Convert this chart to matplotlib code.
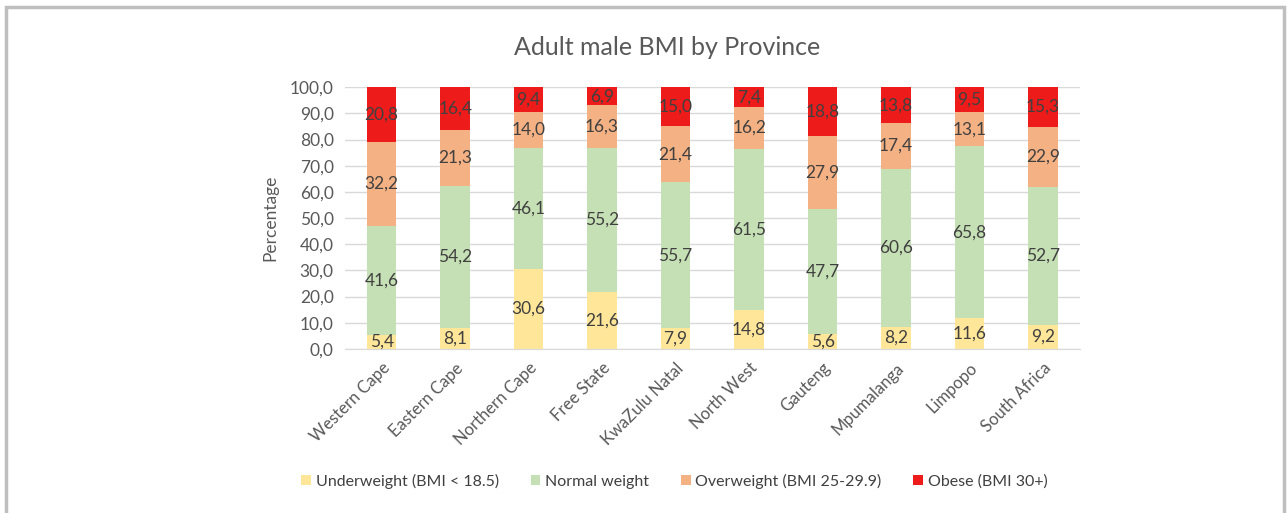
"""Adult male BMI by Province - stacked bar chart."""
import matplotlib
matplotlib.use("Agg")
import matplotlib.pyplot as plt
from matplotlib.patches import Rectangle
import numpy as np

provinces = ["Western Cape", "Eastern Cape", "Northern Cape", "Free State",
             "KwaZulu Natal", "North West", "Gauteng", "Mpumalanga",
             "Limpopo", "South Africa"]
underweight = [5.4, 8.1, 30.6, 21.6, 7.9, 14.8, 5.6, 8.2, 11.6, 9.2]
normal = [41.6, 54.2, 46.1, 55.2, 55.7, 61.5, 47.7, 60.6, 65.8, 52.7]
overweight = [32.2, 21.3, 14.0, 16.3, 21.4, 16.2, 27.9, 17.4, 13.1, 22.9]
obese = [20.8, 16.4, 9.4, 6.9, 15.0, 7.4, 18.8, 13.8, 9.5, 15.3]

series_names = ["Underweight (BMI < 18.5)", "Normal weight",
                "Overweight (BMI 25-29.9)", "Obese (BMI 30+)"]
colors = ["#FFE699", "#C5E0B4", "#F4B183", "#EE1B1B"]

plt.rcParams['font.family'] = ['Lato', 'DejaVu Sans']

fig = plt.figure(figsize=(12.87, 5.13), dpi=100)
ax = fig.add_axes([0.268, 0.320, 0.571, 0.510])

x = np.arange(len(provinces))
bottom = np.zeros(len(provinces))
for vals, name, col in zip([underweight, normal, overweight, obese],
                           series_names, colors):
    vals = np.array(vals)
    ax.bar(x, vals, width=0.4, bottom=bottom, color=col, label=name, zorder=2)
    for xi, b, v in zip(x, bottom, vals):
        ax.text(xi, b + v / 2, f"{v:.1f}".replace(".", ","),
                ha="center", va="center", fontsize=12.5, color="#404040",
                zorder=3)
    bottom += vals

ax.set_xlim(-0.5, len(provinces) - 0.5)
ax.set_ylim(0, 100)
ax.set_yticks(np.arange(0, 101, 10))
ax.set_yticklabels([f"{v:.1f}".replace(".", ",") for v in np.arange(0, 101, 10)])
ax.yaxis.grid(True, color="#D9D9D9", linewidth=1, zorder=0)
ax.set_axisbelow(True)
for s in ["top", "right", "left"]:
    ax.spines[s].set_visible(False)
ax.spines["bottom"].set_color("#D9D9D9")
ax.tick_params(length=0, labelsize=12.5, colors="#595959", pad=8)

ax.set_xticks(x)
ax.set_xticklabels(provinces, rotation=45, ha="right", rotation_mode="anchor",
                   fontsize=12)
ax.set_ylabel("Percentage", fontsize=12.5, color="#595959", labelpad=8)

fig.text(0.518, 0.908, "Adult male BMI by Province", ha="center", va="center",
         fontsize=18, color="#595959")

ax.legend(loc="center", bbox_to_anchor=(0.524, 0.062),
          bbox_transform=fig.transFigure, ncol=4, frameon=False,
          fontsize=11.5, handlelength=0.6, handleheight=0.6,
          handletextpad=0.3, columnspacing=2.0, labelcolor="#404040")

# grey frame around the figure
fig.patches.append(Rectangle((0.0045, -0.05), 0.993, 1.036, transform=fig.transFigure,
                             fill=False, edgecolor="#BFBFBF", linewidth=2.5))

fig.savefig("out.png", dpi=100)
